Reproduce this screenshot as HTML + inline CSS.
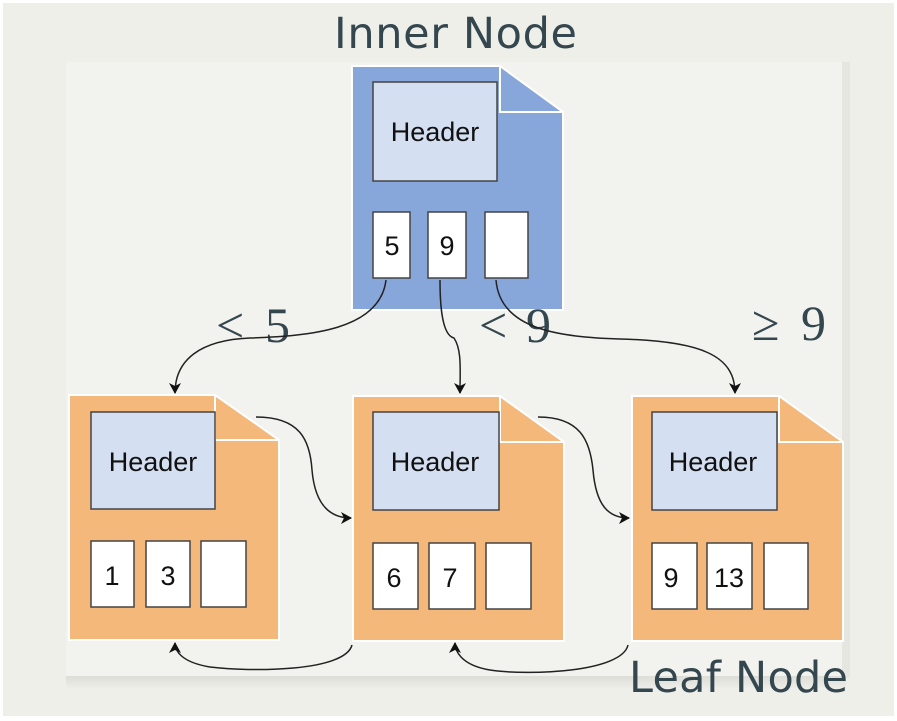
<!DOCTYPE html>
<html><head><style>html,body{margin:0;padding:0;background:#fff}svg{display:block}</style></head><body>
<svg width="897" height="721" viewBox="0 0 897 721" xmlns="http://www.w3.org/2000/svg">
<defs>
<marker id="a" markerWidth="12" markerHeight="12" refX="10" refY="6" orient="auto" markerUnits="userSpaceOnUse"><path d="M0,0 L11,6 L0,12 L3,6 Z" fill="#111"/></marker>
<linearGradient id="sh" x1="0" y1="0" x2="0" y2="1"><stop offset="0" stop-color="#dcdcd6"/><stop offset="1" stop-color="#eeeeea"/></linearGradient>
</defs>
<rect x="3" y="3" width="891" height="713" fill="#efefea"/>
<rect x="66" y="675" width="780" height="14" fill="url(#sh)"/>
<rect x="842" y="62" width="8" height="616" fill="#e6e6e1"/>
<rect x="66" y="62" width="776" height="614" fill="#f2f2ee"/>
<g font-family="Liberation Sans, sans-serif" font-size="27" fill="#111" text-anchor="middle">
<path d="M352,66 H500 L563,112 V310 H352 Z" fill="#87a6d9" stroke="#fff" stroke-width="2"/>
<path d="M500,66 V112 H563" fill="none" stroke="#fff" stroke-width="2"/>
<rect x="373" y="82" width="124" height="99" fill="#d4dff1" stroke="#444" stroke-width="1.5"/>
<text x="435" y="141">Header</text>
<rect x="373" y="212" width="37" height="66" fill="#fff" stroke="#444" stroke-width="1.5"/><text x="392" y="255">5</text>
<rect x="428" y="212" width="38" height="66" fill="#fff" stroke="#444" stroke-width="1.5"/><text x="447" y="255">9</text>
<rect x="485" y="212" width="43" height="66" fill="#fff" stroke="#444" stroke-width="1.5"/>
<g>
<path d="M69,395 H215 L279,440 V640 H69 Z" fill="#f3b87a" stroke="#fff" stroke-width="2"/>
<path d="M215,395 V440 H279" fill="none" stroke="#fff" stroke-width="2"/>
<rect x="91" y="412" width="124" height="97" fill="#d4dff1" stroke="#444" stroke-width="1.5"/>
<text x="153" y="471">Header</text>
<rect x="91" y="541" width="43" height="66" fill="#fff" stroke="#444" stroke-width="1.5"/><text x="112" y="585">1</text>
<rect x="146" y="541" width="44" height="66" fill="#fff" stroke="#444" stroke-width="1.5"/><text x="168" y="585">3</text>
<rect x="201" y="541" width="45" height="66" fill="#fff" stroke="#444" stroke-width="1.5"/>
</g>
<g>
<path d="M353,396 H500 L564,442 V641 H353 Z" fill="#f3b87a" stroke="#fff" stroke-width="2"/>
<path d="M500,396 V442 H564" fill="none" stroke="#fff" stroke-width="2"/>
<rect x="373" y="412" width="126" height="98" fill="#d4dff1" stroke="#444" stroke-width="1.5"/>
<text x="435" y="471">Header</text>
<rect x="373" y="543" width="45" height="66" fill="#fff" stroke="#444" stroke-width="1.5"/><text x="394" y="587">6</text>
<rect x="429" y="543" width="46" height="66" fill="#fff" stroke="#444" stroke-width="1.5"/><text x="450" y="587">7</text>
<rect x="486" y="543" width="45" height="66" fill="#fff" stroke="#444" stroke-width="1.5"/>
</g>
<g>
<path d="M632,396 H779 L843,442 V641 H632 Z" fill="#f3b87a" stroke="#fff" stroke-width="2"/>
<path d="M779,396 V442 H843" fill="none" stroke="#fff" stroke-width="2"/>
<rect x="652" y="412" width="125" height="98" fill="#d4dff1" stroke="#444" stroke-width="1.5"/>
<text x="713" y="471">Header</text>
<rect x="652" y="543" width="45" height="66" fill="#fff" stroke="#444" stroke-width="1.5"/><text x="671" y="587">9</text>
<rect x="707" y="543" width="45" height="66" fill="#fff" stroke="#444" stroke-width="1.5"/><text x="729" y="587">13</text>
<rect x="764" y="543" width="44" height="66" fill="#fff" stroke="#444" stroke-width="1.5"/>
</g>
</g>
<g font-family="Liberation Serif, serif" font-size="50" fill="#34474f">
<text x="216" y="342" textLength="74">&lt; 5</text>
<text x="479" y="342" textLength="72">&lt; 9</text>
<text x="752" y="340" textLength="74">≥ 9</text>
</g>
<g font-family="DejaVu Sans, sans-serif" font-size="43" fill="#34474f">
<text x="334" y="48" textLength="243">Inner Node</text>
<text x="629" y="692" textLength="219">Leaf Node</text>
</g>
<g fill="none" stroke="#222" stroke-width="1.5" marker-end="url(#a)">
<path d="M386,280 C380,330 310,336 250,338 C200,340 175,360 175,393"/>
<path d="M440,280 C440,300 441,335 454,338 C462,350 460,370 460,393"/>
<path d="M496,280 C500,330 560,337 620,339 C700,341 735,355 735,393"/>
<path d="M256,417 C300,417 310,440 312,470 C315,505 330,518 351,518"/>
<path d="M538,417 C580,417 590,440 593,470 C596,505 608,518 629,518"/>
<path d="M352,645 C345,672 250,672 210,667 C180,662 175,650 175,643"/>
<path d="M628,645 C622,672 530,676 490,670 C460,665 455,650 455,643"/>
</g>
</svg>
</body></html>
